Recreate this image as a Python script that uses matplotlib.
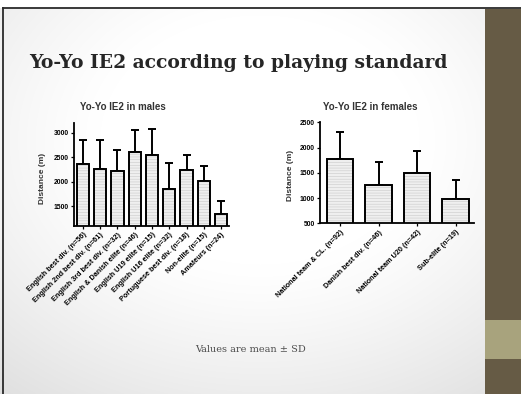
import numpy as np
import matplotlib
matplotlib.use("Agg")
import matplotlib.pyplot as plt
from matplotlib.patches import Rectangle
from matplotlib.lines import Line2D

# Yo-Yo IE2 distance (m), mean and SD per playing standard
male_groups = ["English best div. (n=56)", "English 2nd best div. (n=61)",
               "English 3rd best div. (n=32)", "English & Danish elite (n=46)",
               "English U19 elite (n=15)", "English U16 elite (n=32)",
               "Portuguese best div. (n=18)", "Non-elite (n=15)", "Amateurs (n=24)"]
male_mean = [2365, 2265, 2225, 2610, 2545, 1855, 2245, 2020, 1335]
male_sd = [480, 580, 430, 445, 540, 530, 300, 295, 275]

female_groups = ["National team & CL. (n=92)", "Danish best div. (n=46)",
                 "National team U20 (n=42)", "Sub-elite (n=19)"]
female_mean = [1775, 1260, 1490, 990]
female_sd = [530, 450, 440, 370]

male_yticks = [1500, 2000, 2500, 3000]
female_yticks = [500, 1000, 1500, 2000, 2500]

W, H = 521, 394
fig = plt.figure(figsize=(W / 100, H / 100), dpi=100)
plt.rcParams['hatch.linewidth'] = 0.35


def fx(px):
    return px / W


def fy(px):
    return 1 - px / H


# slide background with a soft grey falloff towards the corners
bg = fig.add_axes([0, 0, 1, 1], zorder=-10)
yy, xx = np.mgrid[0:H, 0:W]
d = np.sqrt(((xx - 260) / 320.0) ** 2 + ((yy - 140) / 250.0) ** 2)
shade = 1 - 0.16 * np.clip(d - 0.5, 0, None) ** 1.2
bg.imshow(np.dstack([shade] * 3), extent=[0, 1, 0, 1], aspect='auto',
          vmin=0, vmax=1, interpolation='bilinear')
bg.set_xlim(0, 1)
bg.set_ylim(0, 1)
bg.axis('off')

# white strip above the frame line
fig.patches.append(Rectangle((0, fy(8)), 1, 1 - fy(8), transform=fig.transFigure,
                             facecolor='white', edgecolor='none', zorder=-5))
# olive side bar with its lighter band
fig.patches.append(Rectangle((fx(485), 0), 1 - fx(485), fy(9), transform=fig.transFigure,
                             facecolor='#665b45', edgecolor='none', zorder=-4))
fig.patches.append(Rectangle((fx(485), fy(359)), 1 - fx(485), fy(320) - fy(359),
                             transform=fig.transFigure, facecolor='#a8a37d',
                             edgecolor='none', zorder=-3))
fig.lines.append(Line2D([fx(3), 1], [fy(8), fy(8)], transform=fig.transFigure,
                        color='#2a2a2a', lw=1.3))
fig.lines.append(Line2D([fx(3), fx(3)], [0, fy(8)], transform=fig.transFigure,
                        color='#2a2a2a', lw=1.3))

fig.text(fx(238), fy(63), "Yo-Yo IE2 according to playing standard",
         family='DejaVu Serif', weight='bold', fontsize=13.5, color='#262626',
         ha='center', va='center')
fig.text(fx(250), fy(350), "Values are mean \u00b1 SD", family='DejaVu Serif',
         fontsize=7, color='#4d4d4d', ha='center', va='center')


def bar_panel(rect, names, means, sds, yticks, ylim, xlim, width):
    ax = fig.add_axes(rect)
    x = np.arange(len(names))
    ax.bar(x, means, width=width, color='#efefef', edgecolor='#c4c4c4',
           hatch='------', linewidth=0, zorder=2)
    ax.bar(x, means, width=width, facecolor='none', edgecolor='black',
           linewidth=1.4, zorder=3)
    ax.errorbar(x, means, yerr=[np.zeros(len(sds)), sds], fmt='none',
                ecolor='black', elinewidth=1.4, capsize=2.8, capthick=1.4, zorder=1)
    ax.set_xlim(*xlim)
    ax.set_ylim(*ylim)
    ax.set_yticks(yticks)
    ax.set_xticks(x)
    ax.set_xticklabels(names, rotation=45, ha='right', rotation_mode='anchor',
                       fontsize=5.2, fontweight='bold', family='Liberation Sans')
    for lab in ax.get_yticklabels():
        lab.set_fontweight('bold')
        lab.set_family('Liberation Sans')
    ax.tick_params(axis='y', labelsize=4.9, length=2.5, width=0.9, pad=1)
    ax.tick_params(axis='x', length=2, width=0.9, pad=2)
    for side in ['top', 'right']:
        ax.spines[side].set_visible(False)
    for side in ['left', 'bottom']:
        ax.spines[side].set_linewidth(1.3)
    ax.patch.set_alpha(0)
    return ax


bar_panel([fx(74), fy(225.7), fx(155), 102.7 / H], male_groups, male_mean, male_sd,
          male_yticks, (1100, 3200), (-0.52, 8.46), 0.7)
bar_panel([fx(320), fy(223.3), fx(154), 101 / H], female_groups, female_mean, female_sd,
          female_yticks, (500, 2500), (-0.52, 3.48), 0.68)

fig.text(fx(123), fy(107), "Yo-Yo IE2 in males", family='Liberation Sans',
         weight='bold', fontsize=7, color='#333333', ha='center', va='center')
fig.text(fx(370), fy(107), "Yo-Yo IE2 in females", family='Liberation Sans',
         weight='bold', fontsize=7, color='#333333', ha='center', va='center')
fig.text(fx(42), fy(178), "Distance (m)", family='Liberation Sans', weight='bold',
         fontsize=6, rotation=90, ha='center', va='center', color='#333333')
fig.text(fx(290), fy(175), "Distance (m)", family='Liberation Sans', weight='bold',
         fontsize=6, rotation=90, ha='center', va='center', color='#333333')

fig.savefig("out.png", dpi=100)
